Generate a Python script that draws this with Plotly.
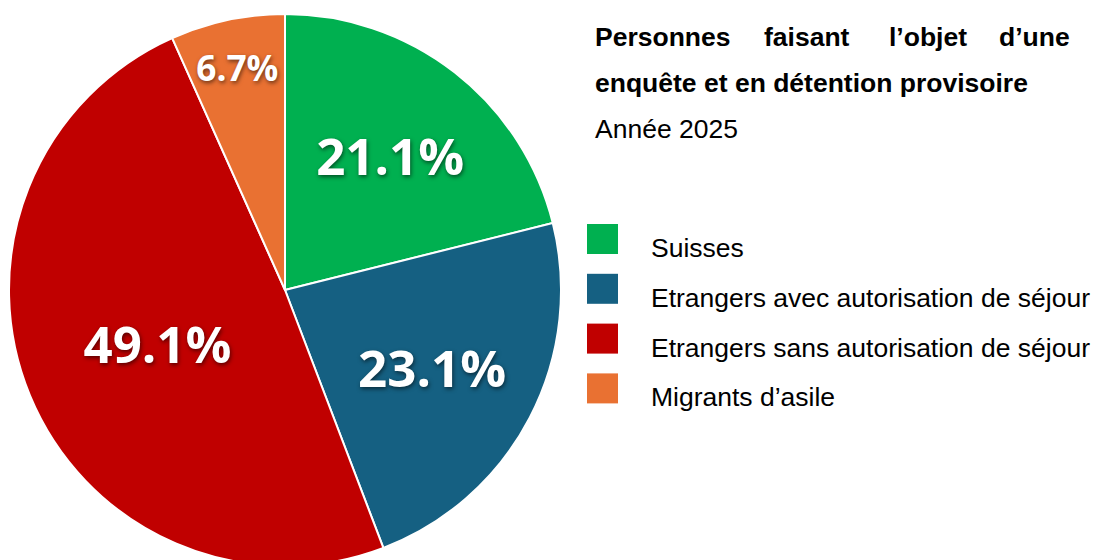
import plotly.graph_objects as go

categories = ["Suisses", "Etrangers avec autorisation de séjour",
              "Etrangers sans autorisation de séjour", "Migrants d’asile"]
values = [21.1, 23.1, 49.1, 6.7]
colors = ["#00B050", "#156082", "#C00000", "#E97132"]
title_words = ["Personnes", "faisant", "l’objet", "d’une"]
title_line2 = "enquête et en détention provisoire"
subtitle = "Année 2025"

W, H = 1097, 580
cx, cy, r = 285, 290, 276

fig = go.Figure(go.Pie(
    labels=categories, values=values, sort=False, direction="clockwise", rotation=0,
    marker=dict(colors=colors, line=dict(color="white", width=2)),
    texttemplate="%{value:.1f}%", textposition="inside", insidetextorientation="horizontal",
    textfont=dict(family="Open Sans", size=51, color="white", weight="bold",
                  shadow="1px 2px 4px rgba(0,0,0,0.55)"),
    domain=dict(x=[(cx - r) / W, (cx + r) / W], y=[(H - cy - r) / H, (H - cy + r) / H]),
    showlegend=False, hoverinfo="label+percent",
))

ann = []
# justified first title line
word_x = [593, 762, 887, 997]
for w, x in zip(title_words, word_x):
    ann.append(dict(text=f"<b>{w}</b>", x=x, y=54, xanchor="left", yanchor="bottom"))
ann.append(dict(text=f"<b>{title_line2}</b>", x=593, y=100, xanchor="left", yanchor="bottom"))
ann.append(dict(text=subtitle, x=593, y=146, xanchor="left", yanchor="bottom"))

shapes = []
for i, (c, col) in enumerate(zip(categories, colors)):
    yc = 239 + i * 49.8
    shapes.append(dict(type="rect", xref="x", yref="y", x0=587, x1=618, y0=yc - 15, y1=yc + 15,
                       fillcolor=col, line=dict(width=0)))
    ann.append(dict(text=c, x=649, y=yc + 9, xanchor="left", yanchor="middle"))

for a in ann:
    a.update(xref="x", yref="y", showarrow=False,
             font=dict(family="Liberation Sans, Arial", size=26.5, color="black"))

fig.update_layout(
    width=W, height=H, margin=dict(l=0, r=0, t=0, b=0),
    paper_bgcolor="white", plot_bgcolor="white",
    xaxis=dict(range=[0, W], visible=False, fixedrange=True),
    yaxis=dict(range=[H, 0], visible=False, fixedrange=True),
    annotations=ann, shapes=shapes,
)
fig.write_html("out.html", config={"displayModeBar": False},
               post_script="document.body.style.margin='0';document.body.style.overflow='hidden';")
